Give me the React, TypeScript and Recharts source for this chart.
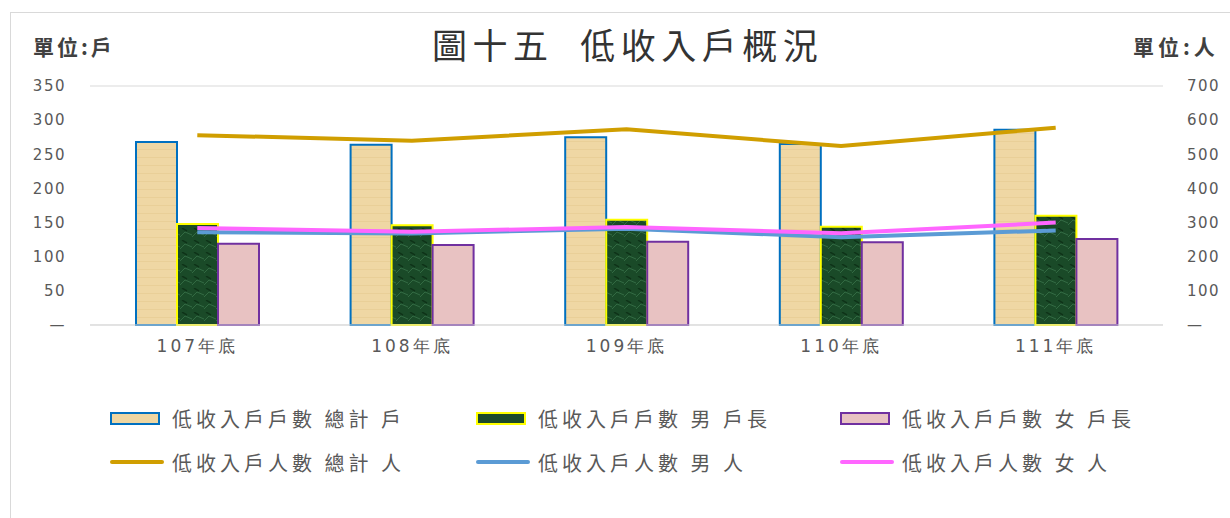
import React from 'react';
import { ComposedChart, Bar, Line, XAxis, YAxis, CartesianGrid } from 'recharts';

const categories = ['107年底', '108年底', '109年底', '110年底', '111年底'];
const householdsTotal = [268, 264, 275, 265, 286];
const householdsMale = [148, 146, 154, 144, 160];
const householdsFemale = [119, 117, 122, 121, 126];
const personsTotal = [556, 540, 573, 524, 578];
const personsMale = [272, 268, 282, 257, 277];
const personsFemale = [284, 273, 287, 269, 300];
const leftTicks = [0, 50, 100, 150, 200, 250, 300, 350];
const rightTicks = [0, 100, 200, 300, 400, 500, 600, 700];

const seriesNames = [
  '低收入戶戶數 總計 戶',
  '低收入戶戶數 男 戶長',
  '低收入戶戶數 女 戶長',
  '低收入戶人數 總計 人',
  '低收入戶人數 男 人',
  '低收入戶人數 女 人',
];

const data = categories.map((c, i) => ({
  name: c,
  hTotal: householdsTotal[i],
  hMale: householdsMale[i],
  hFemale: householdsFemale[i],
  pTotal: personsTotal[i],
  pMale: personsMale[i],
  pFemale: personsFemale[i],
}));

const gray = '#595959';
const tickStyle = { fill: gray, fontSize: 15, fontFamily: 'DejaVu Sans, sans-serif', letterSpacing: 1.5 };
const fmt = (v: number) => (v === 0 ? '—' : String(v));

const legendItems = [
  { name: seriesNames[0], kind: 'bar', fill: '#EED6A2', stroke: '#0070C0' },
  { name: seriesNames[1], kind: 'bar', fill: '#1C4A2A', stroke: '#FFFF00' },
  { name: seriesNames[2], kind: 'bar', fill: '#E8C2C2', stroke: '#7030A0' },
  { name: seriesNames[3], kind: 'line', stroke: '#D09E00' },
  { name: seriesNames[4], kind: 'line', stroke: '#5B9BD5' },
  { name: seriesNames[5], kind: 'line', stroke: '#FF66FF' },
];
const colX = [110, 476, 840];
const rowY = [418, 462];

export default function App() {
  return (
    <div style={{ position: 'absolute', left: 0, top: 0, width: 1230, height: 518, overflow: 'hidden', background: '#fff' }}>
      <div style={{ position: 'absolute', left: 10, top: 12, width: 1230, height: 520, borderLeft: '1.5px solid #D9D9D9', borderTop: '1.5px solid #D9D9D9' }} />
      <div style={{ position: 'absolute', left: 0, top: 0 }}>
        <ComposedChart width={1230} height={518} data={data} margin={{ top: 86, right: 20, bottom: 163, left: 30 }} barGap={0} barSize={41}>
          <defs>
            <pattern id="greenTex" width="12" height="12" patternUnits="userSpaceOnUse">
              <rect width="12" height="12" fill="#1A4A28" />
              <path d="M0 9 L5 4 L12 7" stroke="#3E7A4E" strokeWidth="1" fill="none" opacity="0.7" />
              <path d="M2 0 L7 3" stroke="#0E3318" strokeWidth="1.5" fill="none" />
            </pattern>
            <pattern id="tanTex" width="10" height="8" patternUnits="userSpaceOnUse">
              <rect width="10" height="8" fill="#EFD7A4" />
              <rect y="5" width="10" height="1" fill="#E4C98F" opacity="0.6" />
            </pattern>
          </defs>
          <CartesianGrid vertical={false} stroke="#D9D9D9" strokeWidth={1.2} />
          <XAxis dataKey="name" axisLine={{ stroke: '#D9D9D9' }} tickLine={false} tickMargin={9} height={30}
            tick={{ fill: gray, fontSize: 17, fontFamily: 'DejaVu Sans, sans-serif', letterSpacing: 3 }} />
          <YAxis yAxisId="left" domain={[0, 350]} ticks={leftTicks} axisLine={false} tickLine={false} width={60}
            tickMargin={18} tick={tickStyle} tickFormatter={fmt} />
          <YAxis yAxisId="right" orientation="right" domain={[0, 700]} ticks={rightTicks} axisLine={false} tickLine={false}
            width={47} tickMargin={18} tick={{ ...tickStyle, textAnchor: 'start' }} tickFormatter={fmt} />
          <Bar yAxisId="left" dataKey="hTotal" name={seriesNames[0]} fill="url(#tanTex)" stroke="#0070C0" strokeWidth={2} isAnimationActive={false} />
          <Bar yAxisId="left" dataKey="hMale" name={seriesNames[1]} fill="url(#greenTex)" stroke="#FFFF00" strokeWidth={2} isAnimationActive={false} />
          <Bar yAxisId="left" dataKey="hFemale" name={seriesNames[2]} fill="#E8C2C2" stroke="#7030A0" strokeWidth={2} isAnimationActive={false} />
          <Line yAxisId="right" dataKey="pTotal" name={seriesNames[3]} stroke="#D09E00" strokeWidth={4} dot={false} isAnimationActive={false} />
          <Line yAxisId="right" dataKey="pMale" name={seriesNames[4]} stroke="#5B9BD5" strokeWidth={4} dot={false} isAnimationActive={false} />
          <Line yAxisId="right" dataKey="pFemale" name={seriesNames[5]} stroke="#FF66FF" strokeWidth={4} dot={false} isAnimationActive={false} />
        </ComposedChart>
      </div>
      <div style={{ position: 'absolute', left: 432, top: 22, fontFamily: '"Noto Sans CJK TC", sans-serif', fontSize: 35, color: '#333333', letterSpacing: 5.5, whiteSpace: 'pre', lineHeight: '44px' }}>
        {'圖十五  低收入戶概況'}
      </div>
      <div style={{ position: 'absolute', left: 33, top: 32, fontFamily: '"Noto Sans CJK TC", sans-serif', fontSize: 21, fontWeight: 700, color: '#404040', letterSpacing: 3, lineHeight: '28px' }}>
        單位:戶
      </div>
      <div style={{ position: 'absolute', left: 1133, top: 32, fontFamily: '"Noto Sans CJK TC", sans-serif', fontSize: 21, fontWeight: 700, color: '#404040', letterSpacing: 4, lineHeight: '28px' }}>
        單位:人
      </div>
      {legendItems.map((it, i) => {
        const x = colX[i % 3];
        const y = rowY[Math.floor(i / 3)];
        return (
          <div key={it.name} style={{ position: 'absolute', left: x, top: y - 14, height: 28, display: 'flex', alignItems: 'center' }}>
            {it.kind === 'bar' ? (
              <div style={{ width: 46, height: 9, background: it.fill, border: `2px solid ${it.stroke}`, marginRight: 12 }} />
            ) : (
              <div style={{ width: 54, height: 4, background: it.stroke, borderRadius: 2, marginRight: 8 }} />
            )}
            <span style={{ fontFamily: '"Noto Sans CJK TC", sans-serif', fontSize: 20, color: gray, letterSpacing: 4, whiteSpace: 'pre' }}>{it.name}</span>
          </div>
        );
      })}
    </div>
  );
}
